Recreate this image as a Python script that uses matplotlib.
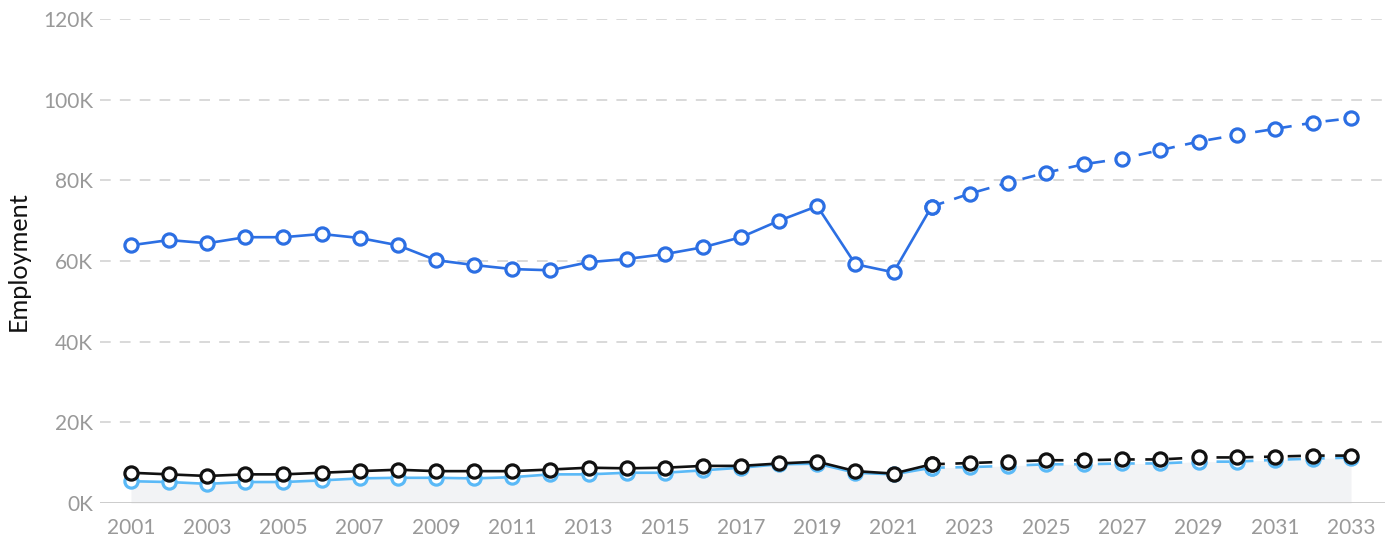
import matplotlib
matplotlib.use("Agg")
import matplotlib.pyplot as plt
from matplotlib.ticker import FuncFormatter

years = list(range(2001, 2034))
main_series = [63.9, 65.2, 64.4, 65.9, 65.9, 66.7, 65.7, 63.9, 60.2, 59.0, 58.0, 57.7,
               59.7, 60.5, 61.7, 63.4, 65.9, 70.0, 73.6, 59.2, 57.2, 73.5,
               76.7, 79.4, 81.9, 84.0, 85.4, 87.5, 89.6, 91.25, 92.75, 94.3, 95.4]
black_series = [7.5, 7.1, 6.7, 7.1, 7.1, 7.5, 7.9, 8.25, 7.9, 7.9, 7.9, 8.3,
                8.75, 8.6, 8.75, 9.2, 9.2, 9.8, 10.25, 7.9, 7.3, 9.6,
                9.9, 10.25, 10.6, 10.6, 10.8, 10.8, 11.3, 11.3, 11.5, 11.75, 11.75]
light_series = [5.4, 5.2, 4.75, 5.2, 5.2, 5.6, 6.1, 6.25, 6.25, 6.1, 6.4, 7.1,
                7.1, 7.5, 7.5, 8.1, 8.75, 9.6, 9.75, 7.5, 7.1, 8.75,
                8.9, 9.2, 9.6, 9.6, 9.8, 9.8, 10.25, 10.25, 10.7, 11.0, 11.25]
split_year = 2022
y_ticks = [0, 20, 40, 60, 80, 100, 120]
x_ticks = list(range(2001, 2034, 2))

main_color = "#2c6fe3"
light_color = "#5ab9f7"
black_color = "#111111"

fig = plt.figure(figsize=(13.88, 5.46), dpi=100)
ax = fig.add_axes([100/1388, 1 - 503/546, (1385-100)/1388, (503-19)/546])

k = years.index(split_year)

ax.fill_between(years, 0, light_series, color="#f2f3f5", zorder=1, lw=0)

def draw(series, color, z):
    ms = 9.5
    mew = 2.3
    ax.plot(years[:k+1], series[:k+1], color=color, lw=1.9, zorder=z,
            marker="o", ms=ms, mfc="white", mec=color, mew=mew)
    ax.plot(years[k:], series[k:], color=color, lw=1.9, zorder=z, ls=(0, (5, 4)),
            marker="o", ms=ms, mfc="white", mec=color, mew=mew)

draw(light_series, light_color, 3)
draw(black_series, black_color, 4)
draw(main_series, main_color, 5)

ax.set_xlim(2001 - 31/38.125, 2033 + 34/38.125)
ax.set_ylim(0, 120)
ax.set_yticks(y_ticks)
ax.set_xticks(x_ticks)
ax.yaxis.set_major_formatter(FuncFormatter(lambda v, p: f"{int(v)}K"))

for y in y_ticks[1:]:
    ax.axhline(y, color="#cfcfcf", lw=1.1, ls=(0, (7, 6)), zorder=0)
ax.axhline(0, color="#c8c8c8", lw=1.3, zorder=2)

for s in ax.spines.values():
    s.set_visible(False)
ax.tick_params(axis="both", length=0, labelsize=15, labelcolor="#999999")
ax.tick_params(axis="y", pad=5)
ax.tick_params(axis="x", pad=11)
for lab in ax.get_xticklabels() + ax.get_yticklabels():
    lab.set_fontfamily("Lato")

ylab = fig.text(18/1388, 1 - 261/546, "Employment", rotation=90, va="center", ha="center",
                fontsize=17, color="#111111", family="Lato")

# fit label length to ~140 px
fig.canvas.draw()
r = fig.canvas.get_renderer()
h = ylab.get_window_extent(r).height
ylab.set_fontsize(17 * 140 / h)

fig.savefig("out.png", dpi=100)
